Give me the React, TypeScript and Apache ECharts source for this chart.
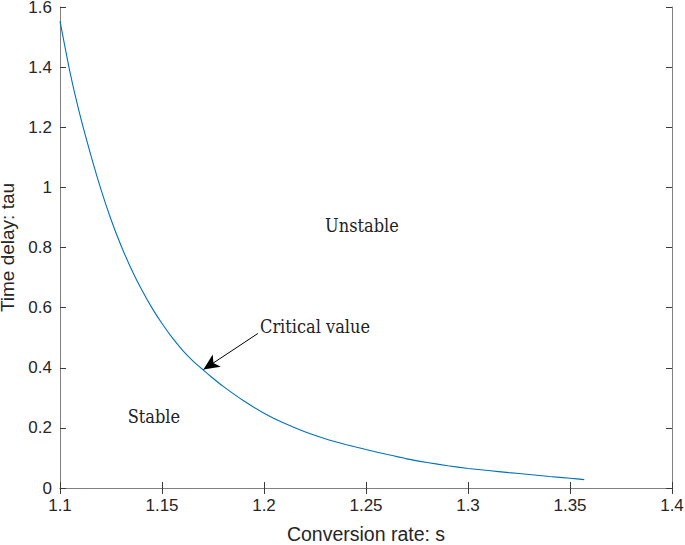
import React, { useEffect, useRef } from "react";
import * as echarts from "echarts";

const sValues = [1.1, 1.105, 1.11, 1.115, 1.12, 1.125, 1.13, 1.135, 1.14, 1.145, 1.15, 1.155, 1.16, 1.165, 1.17, 1.175, 1.18, 1.19, 1.2, 1.21, 1.22, 1.23, 1.24, 1.25, 1.26, 1.27, 1.28, 1.29, 1.3, 1.31, 1.32, 1.33, 1.34, 1.35, 1.357];
const tauValues = [1.553, 1.38, 1.235, 1.11, 0.995, 0.893, 0.805, 0.728, 0.66, 0.6, 0.547, 0.5, 0.459, 0.424, 0.394, 0.365, 0.338, 0.29, 0.249, 0.215, 0.187, 0.164, 0.145, 0.128, 0.112, 0.097, 0.085, 0.074, 0.065, 0.058, 0.051, 0.045, 0.038, 0.0325, 0.028];
const arrowFrom = [1.197, 0.514];
const arrowTo = [1.1703, 0.394];
const xTitle = "Conversion rate: s";
const yTitle = "Time delay: tau";
const annotations = [
  { text: "Unstable", s: 1.248, tau: 0.872 },
  { text: "Critical value", s: 1.225, tau: 0.537 },
  { text: "Stable", s: 1.146, tau: 0.239 },
];

export default function App() {
  const ref = useRef<HTMLDivElement>(null);
  useEffect(() => {
    if (!ref.current) return;
    const chart = echarts.init(ref.current, null, { renderer: "svg" });
    const axisLineColor = "#808080";
    const tickColor = "#3a3a3a";
    const sans = "Liberation Sans, Arial, Helvetica, sans-serif";
    const labelStyle = { color: "#262626", fontSize: 17, fontFamily: sans };
    const fmt = (v: number) => String(parseFloat(v.toFixed(2)));
    chart.setOption({
      animation: false,
      backgroundColor: "#ffffff",
      grid: { left: 60, right: 13, top: 7, bottom: 57, containLabel: false, outerBoundsMode: "none" },
      xAxis: [
        {
          type: "value", min: 1.1, max: 1.4, interval: 0.05,
          axisLine: { show: true, onZero: false, lineStyle: { color: axisLineColor, width: 1 } },
          axisTick: { show: true, inside: true, length: 6, lineStyle: { color: tickColor } },
          axisLabel: { ...labelStyle, lineHeight: 12, margin: 11, formatter: fmt },
          splitLine: { show: false },
          name: xTitle, nameLocation: "middle", nameGap: 37,
          nameTextStyle: { color: "#262626", fontSize: 19.5, fontFamily: sans, lineHeight: 18 },
        },
        {
          type: "value", position: "top", min: 1.1, max: 1.4, interval: 0.05,
          axisLine: { show: true, lineStyle: { color: axisLineColor, width: 1 } },
          axisTick: { show: true, inside: true, length: 6, lineStyle: { color: tickColor } },
          axisLabel: { show: false }, splitLine: { show: false },
        },
      ],
      yAxis: [
        {
          type: "value", min: 0, max: 1.6, interval: 0.2,
          axisLine: { show: true, onZero: false, lineStyle: { color: axisLineColor, width: 1 } },
          axisTick: { show: true, inside: true, length: 6, lineStyle: { color: tickColor } },
          axisLabel: { ...labelStyle, lineHeight: 13, margin: 8, formatter: fmt },
          splitLine: { show: false },
          name: yTitle, nameLocation: "middle", nameGap: 35, nameRotate: 90,
          nameTextStyle: { color: "#262626", fontSize: 19, fontFamily: sans, lineHeight: 20 },
        },
        {
          type: "value", position: "right", min: 0, max: 1.6, interval: 0.2,
          axisLine: { show: true, lineStyle: { color: axisLineColor, width: 1 } },
          axisTick: { show: true, inside: true, length: 6, lineStyle: { color: tickColor } },
          axisLabel: { show: false }, splitLine: { show: false },
        },
      ],
      series: [
        {
          type: "line",
          data: sValues.map((s, i) => [s, tauValues[i]]),
          showSymbol: false,
          smooth: 0.2,
          lineStyle: { color: "#0072BD", width: 1.1 },
          markLine: {
            silent: true,
            symbol: ["none", "arrow"],
            symbolSize: [11, 16],
            label: { show: false },
            lineStyle: { color: "#000000", width: 1, type: "solid" },
            data: [[{ coord: arrowFrom }, { coord: arrowTo }]],
          },
          markPoint: {
            silent: true,
            symbol: "circle",
            symbolSize: 0,
            data: annotations.map((a) => ({
              coord: [a.s, a.tau],
              label: {
                show: true,
                position: "inside",
                formatter: a.text,
                color: "#222222",
                fontSize: 18,
                fontFamily: "DejaVu Serif Condensed, Liberation Serif, serif",
              },
            })),
          },
        },
      ],
    });
    return () => chart.dispose();
  }, []);
  return <div ref={ref} style={{ position: "absolute", left: 0, top: 0, width: 685, height: 545 }} />;
}
